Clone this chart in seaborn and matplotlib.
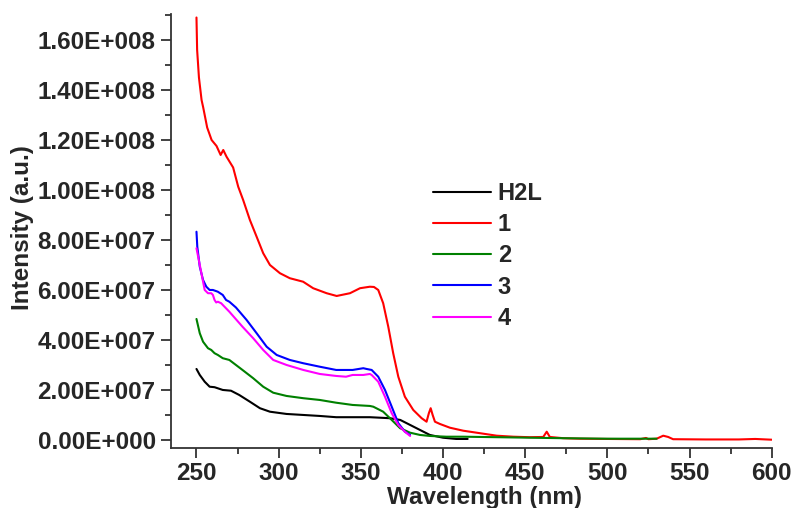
import numpy as np
import pandas as pd
import matplotlib
matplotlib.use("Agg")
import matplotlib.pyplot as plt
import seaborn as sns
from matplotlib.ticker import MultipleLocator, FixedLocator, FixedFormatter

# ---- data (intensity in units of 1E7 a.u.) ----
SCALE = 1e7

h2l_x = [250, 252, 255, 258, 261, 266, 271, 276, 282.5, 288.6, 294.7, 304.8, 314.9,
         325, 335, 345, 355.5, 367.7, 374, 380, 386, 392, 400, 408, 415]
h2l_y = [2.84, 2.6, 2.33, 2.13, 2.11, 2.0, 1.97, 1.8, 1.53, 1.27, 1.13, 1.04, 1.0,
         0.96, 0.91, 0.91, 0.91, 0.87, 0.8, 0.6, 0.4, 0.2, 0.09, 0.04, 0.04]

c1_x = [250, 250.4, 251.5, 253.1, 254.1, 256.5, 259.2, 262.2, 264.7, 266.3, 268.3,
        272.3, 275.4, 278.4, 282.5, 286.6, 290.6, 294.7, 300.8, 306.8, 314.9, 321,
        329.2, 335.3, 343.4, 349.5, 355.5, 358, 360.6, 363.6, 366.7, 369.7, 372.8,
        376.8, 381.9, 387, 390, 391.4, 392.5, 393.7, 395.1, 398.1, 404.2, 412.3,
        422.5, 432.7, 442.8, 452.9, 461, 463.1, 465, 473.2, 483.3, 500, 520, 523.5,
        525, 530, 534, 537, 540, 560, 580, 590, 600]
c1_y = [16.9, 15.6, 14.5, 13.6, 13.3, 12.5, 12.0, 11.76, 11.4, 11.6, 11.33,
        10.9, 10.13, 9.6, 8.8, 8.13, 7.47, 7.0, 6.67, 6.47, 6.33, 6.07,
        5.87, 5.76, 5.87, 6.07, 6.13, 6.12, 6.0, 5.47, 4.53, 3.47, 2.53,
        1.73, 1.2, 0.87, 0.73, 1.07, 1.27, 1.0, 0.73, 0.64, 0.49, 0.37,
        0.27, 0.17, 0.13, 0.11, 0.12, 0.33, 0.12, 0.07, 0.05, 0.04, 0.03, 0.08,
        0.03, 0.05, 0.17, 0.12, 0.03, 0.02, 0.02, 0.04, 0.01]

c2_x = [250, 252, 254, 257, 259, 261, 263, 266, 270, 274, 278, 284.5, 290.6, 296.7,
        304.8, 315, 325, 335, 345, 355.5, 357.6, 363.6, 368.8, 373.9, 380, 386, 392,
        402, 412, 433, 453, 473, 500, 515, 530]
c2_y = [4.84, 4.27, 3.93, 3.67, 3.6, 3.47, 3.4, 3.27, 3.2, 3.0, 2.8, 2.47, 2.13, 1.89,
        1.76, 1.67, 1.6, 1.49, 1.4, 1.36, 1.33, 1.13, 0.8, 0.47, 0.29, 0.2, 0.16,
        0.13, 0.13, 0.11, 0.09, 0.07, 0.05, 0.05, 0.05]

c3_x = [250, 250.5, 252, 254, 256, 258, 260, 263, 266, 268, 270, 274, 280.5, 286.6,
        292.7, 298.8, 306.8, 314.9, 325, 335, 341, 345, 351.5, 353.5, 356.6, 360.6,
        364.7, 368.8, 372.8, 376.8, 380]
c3_y = [8.33, 7.73, 6.93, 6.4, 6.13, 6.0, 6.0, 5.93, 5.8, 5.6, 5.53, 5.3, 4.8, 4.27,
        3.73, 3.4, 3.2, 3.07, 2.93, 2.8, 2.8, 2.8, 2.87, 2.84, 2.8, 2.53,
        2.0, 1.33, 0.67, 0.33, 0.2]

c4_x = [250, 253, 255, 257, 259, 260, 261, 262, 263, 265, 270, 278, 284.5, 290.6,
        296.7, 304.8, 315, 325, 335, 341, 345, 351.5, 355.5, 356.6, 360.6, 364.7,
        368.8, 372.8, 376.8, 380]
c4_y = [7.67, 6.67, 6.0, 5.87, 5.87, 5.8, 5.6, 5.5, 5.53, 5.47, 5.13, 4.53, 4.07, 3.6,
        3.2, 3.0, 2.8, 2.64, 2.56, 2.53, 2.6, 2.6, 2.64, 2.6, 2.33, 1.73,
        1.07, 0.6, 0.33, 0.16]

series_names = ["H2L", "1", "2", "3", "4"]
series_colors = ["#000000", "#ff0000", "#008000", "#0000ff", "#ff00ff"]

x_ticks = [250, 300, 350, 400, 450, 500, 550, 600]
y_ticks = [0, 2e7, 4e7, 6e7, 8e7, 1e8, 1.2e8, 1.4e8, 1.6e8]
y_tick_labels = ["0.00E+000", "2.00E+007", "4.00E+007", "6.00E+007", "8.00E+007",
                 "1.00E+008", "1.20E+008", "1.40E+008", "1.60E+008"]

# ---- build long table ----
frames = []
for name, xs, ys in zip(series_names,
                        [h2l_x, c1_x, c2_x, c3_x, c4_x],
                        [h2l_y, c1_y, c2_y, c3_y, c4_y]):
    frames.append(pd.DataFrame({"Wavelength": xs,
                                "Intensity": np.array(ys) * SCALE,
                                "Sample": name}))
df = pd.concat(frames, ignore_index=True)

sns.set_style("ticks")
plt.rcParams["font.family"] = ["Liberation Sans", "DejaVu Sans"]
plt.rcParams["font.weight"] = "bold"

fig = plt.figure(figsize=(7.93, 5.08), dpi=100)
ax = fig.add_axes([171 / 793, (508 - 447.7) / 508, 600.7 / 793, 433.7 / 508])

sns.lineplot(data=df, x="Wavelength", y="Intensity", hue="Sample",
             hue_order=series_names, palette=series_colors,
             estimator=None, sort=False, linewidth=1.5, ax=ax)

ax.set_xlim(234.5, 600)
ax.set_ylim(-0.31e7, 17.04e7)

ax.xaxis.set_major_locator(FixedLocator(x_ticks))
ax.xaxis.set_minor_locator(MultipleLocator(25))
ax.yaxis.set_major_locator(FixedLocator(y_ticks))
ax.yaxis.set_major_formatter(FixedFormatter(y_tick_labels))
ax.yaxis.set_minor_locator(MultipleLocator(1e7))

for s in ["top", "right"]:
    ax.spines[s].set_visible(False)
for s in ["left", "bottom"]:
    ax.spines[s].set_linewidth(1.3)
    ax.spines[s].set_color("#333333")

ax.tick_params(axis="both", which="major", length=7, width=1.3, color="#333333",
               labelsize=17.5, pad=4, direction="out")
ax.tick_params(axis="x", which="major", pad=3)
ax.tick_params(axis="both", which="minor", length=4.5, width=1.3, color="#333333",
               direction="out")
for lab in ax.get_xticklabels() + ax.get_yticklabels():
    lab.set_fontweight("bold")

ax.set_xlabel("Wavelength (nm)", fontsize=17.5, fontweight="bold")
ax.set_ylabel("Intensity (a.u.)", fontsize=17.5, fontweight="bold")
ax.xaxis.set_label_coords(0.522, -0.089)
ax.yaxis.set_label_coords(-0.228, 0.508)

leg = ax.legend(loc="upper left", bbox_to_anchor=(0.416, 0.640), frameon=False,
                borderpad=0, handlelength=2.45, handletextpad=0.3,
                labelspacing=0.35, prop={"size": 17, "weight": "bold"})
for line in leg.get_lines():
    line.set_linewidth(1.5)

fig.savefig("out.png", dpi=100)
